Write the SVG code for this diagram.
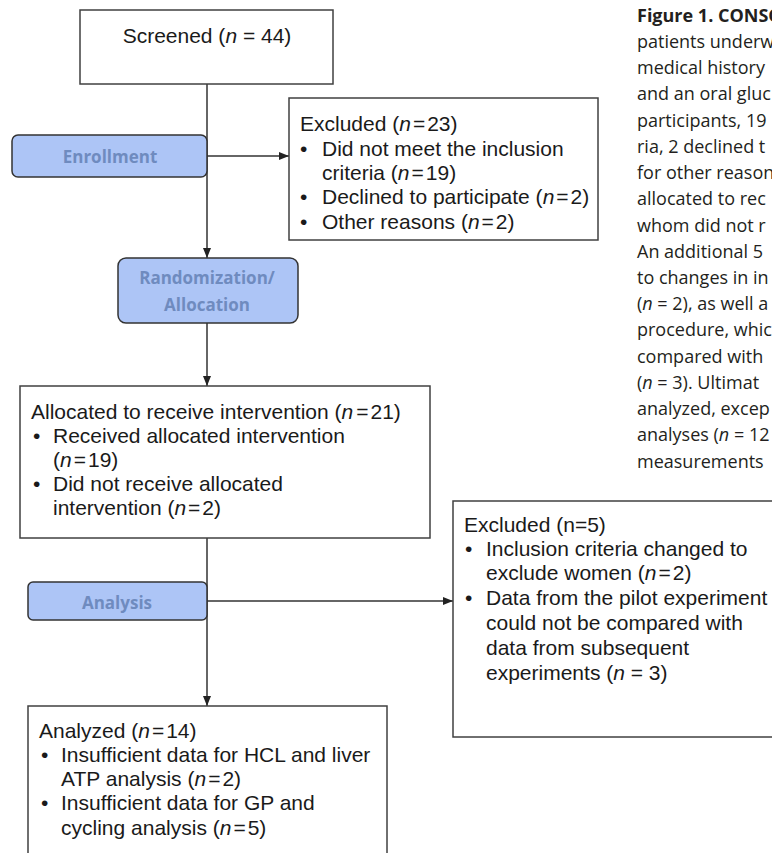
<svg xmlns="http://www.w3.org/2000/svg" width="772" height="853" viewBox="0 0 772 853">
<style>
.box{fill:#fff;stroke:#404040;stroke-width:1.5}
.stage{fill:#adc5f6;stroke:#333;stroke-width:1.5}
.t{font-family:"Liberation Sans",Arial,sans-serif;font-size:21px;fill:#1a1a1a}
.st{font-family:"Open Sans","Noto Sans",sans-serif;font-size:17px;font-weight:bold;fill:#6f8bbf;text-anchor:middle}
.cap{font-family:"Open Sans","Noto Sans",sans-serif;font-size:18px;fill:#231f20}
.i{font-style:italic}
.conn line{stroke:#333;stroke-width:1.5;fill:none}
</style>
<defs>
<marker id="ah" markerUnits="userSpaceOnUse" markerWidth="10" markerHeight="10" viewBox="0 0 10 10" refX="10" refY="5" orient="auto">
<path d="M0,1 L10,5 L0,9 Z" fill="#222"/>
</marker>
</defs>

<g id="caption">
<text class="cap" x="637" y="22" font-weight="bold">Figure 1. CONSO</text>
<text class="cap" x="637" y="48">patients underw</text>
<text class="cap" x="637" y="74">medical history</text>
<text class="cap" x="637" y="100">and an oral gluc</text>
<text class="cap" x="637" y="127">participants, 19</text>
<text class="cap" x="637" y="153">ria, 2 declined t</text>
<text class="cap" x="637" y="179">for other reason</text>
<text class="cap" x="637" y="205">allocated to rec</text>
<text class="cap" x="637" y="232">whom did not r</text>
<text class="cap" x="637" y="258">An additional 5</text>
<text class="cap" x="637" y="284">to changes in in</text>
<text class="cap" x="637" y="310">(<tspan class="i">n</tspan> = 2), as well a</text>
<text class="cap" x="637" y="336">procedure, whic</text>
<text class="cap" x="637" y="363">compared with</text>
<text class="cap" x="637" y="389">(<tspan class="i">n</tspan> = 3). Ultimat</text>
<text class="cap" x="637" y="415">analyzed, excep</text>
<text class="cap" x="637" y="441">analyses (<tspan class="i">n</tspan> = 12</text>
<text class="cap" x="637" y="468">measurements</text>
</g>

<g class="conn" id="connectors">
<line x1="207" y1="84" x2="207" y2="258" marker-end="url(#ah)"/>
<line x1="207" y1="156" x2="289" y2="156" marker-end="url(#ah)"/>
<line x1="207" y1="323" x2="207" y2="386" marker-end="url(#ah)"/>
<line x1="207" y1="538" x2="207" y2="706" marker-end="url(#ah)"/>
<line x1="207" y1="601" x2="453" y2="601" marker-end="url(#ah)"/>
</g>

<g id="screened">
<rect class="box" x="80" y="10" width="253" height="74"/>
<text class="t" x="207" y="43" text-anchor="middle">Screened (<tspan class="i">n</tspan> = 44)</text>
</g>

<g id="enrollment">
<rect class="stage" x="12" y="135" width="195" height="42" rx="6"/>
<text class="st" x="110" y="163">Enrollment</text>
</g>

<g id="excluded1">
<rect class="box" x="289" y="98" width="309" height="142"/>
<text class="t" x="300" y="131">Excluded (<tspan class="i">n</tspan><tspan dx="2">=</tspan><tspan dx="2">23)</tspan></text>
<text class="t" x="300" y="156">•</text>
<text class="t" x="322" y="156">Did not meet the inclusion</text>
<text class="t" x="322" y="180">criteria (<tspan class="i">n</tspan><tspan dx="2">=</tspan><tspan dx="2">19)</tspan></text>
<text class="t" x="300" y="204">•</text>
<text class="t" x="322" y="204">Declined to participate (<tspan class="i">n</tspan><tspan dx="2">=</tspan><tspan dx="2">2)</tspan></text>
<text class="t" x="300" y="229">•</text>
<text class="t" x="322" y="229">Other reasons (<tspan class="i">n</tspan><tspan dx="2">=</tspan><tspan dx="2">2)</tspan></text>
</g>

<g id="randomization">
<rect class="stage" x="118" y="258" width="180" height="65" rx="8"/>
<text class="st" x="207" y="284">Randomization/</text>
<text class="st" x="207" y="311">Allocation</text>
</g>

<g id="allocated">
<rect class="box" x="20" y="386" width="410" height="152"/>
<text class="t" x="31" y="419">Allocated to receive intervention  (<tspan class="i">n</tspan><tspan dx="3">=</tspan><tspan dx="2">21)</tspan></text>
<text class="t" x="33" y="443">•</text>
<text class="t" x="53" y="443">Received allocated intervention</text>
<text class="t" x="53" y="467">(<tspan class="i">n</tspan><tspan dx="2">=</tspan><tspan dx="2">19)</tspan></text>
<text class="t" x="33" y="491">•</text>
<text class="t" x="53" y="491">Did not receive allocated</text>
<text class="t" x="53" y="515">intervention (<tspan class="i">n</tspan><tspan dx="2">=</tspan><tspan dx="2">2)</tspan></text>
</g>

<g id="analysis">
<rect class="stage" x="28" y="582" width="179" height="38" rx="5"/>
<text class="st" x="117" y="609">Analysis</text>
</g>

<g id="excluded2">
<rect class="box" x="453" y="501" width="340" height="236"/>
<text class="t" x="464" y="532">Excluded (n=5)</text>
<text class="t" x="465" y="556">•</text>
<text class="t" x="486" y="556">Inclusion criteria changed to</text>
<text class="t" x="486" y="580">exclude  women (<tspan class="i">n</tspan><tspan dx="2">=</tspan><tspan dx="2">2)</tspan></text>
<text class="t" x="465" y="605">•</text>
<text class="t" x="486" y="605">Data from the pilot experiment</text>
<text class="t" x="486" y="630">could not be compared with</text>
<text class="t" x="486" y="655">data from subsequent</text>
<text class="t" x="486" y="680">experiments (<tspan class="i">n</tspan> = 3)</text>
</g>

<g id="analyzed">
<rect class="box" x="28" y="706" width="359" height="160"/>
<text class="t" x="39" y="738">Analyzed (<tspan class="i">n</tspan><tspan dx="2">=</tspan><tspan dx="2">14)</tspan></text>
<text class="t" x="41" y="762">•</text>
<text class="t" x="61" y="762">Insufficient data for HCL and liver</text>
<text class="t" x="61" y="786">ATP analysis (<tspan class="i">n</tspan><tspan dx="2">=</tspan><tspan dx="2">2)</tspan></text>
<text class="t" x="41" y="810">•</text>
<text class="t" x="61" y="810">Insufficient data for GP and</text>
<text class="t" x="61" y="835">cycling analysis (<tspan class="i">n</tspan><tspan dx="2">=</tspan><tspan dx="2">5)</tspan></text>
</g>
</svg>
